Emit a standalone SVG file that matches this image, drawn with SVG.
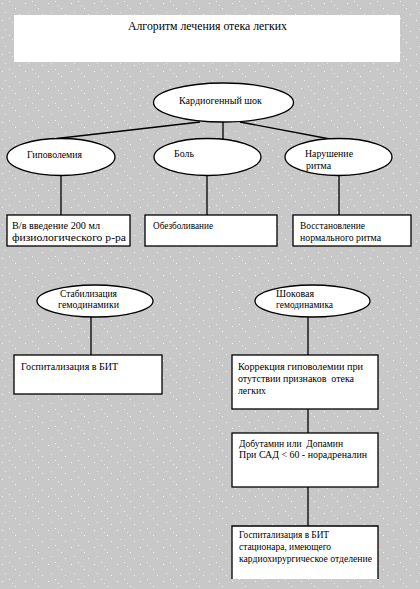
<svg xmlns="http://www.w3.org/2000/svg" width="420" height="589" viewBox="0 0 420 589">
<defs>
<pattern id="noise" width="23" height="17" patternUnits="userSpaceOnUse">
<rect width="23" height="17" fill="#c8c8c8"/>
<rect x="2" y="3" width="1" height="1" fill="#f4f4f4"/>
<rect x="9" y="1" width="1" height="1" fill="#efefef"/>
<rect x="15" y="8" width="1" height="1" fill="#f4f4f4"/>
<rect x="5" y="12" width="1" height="1" fill="#e8e8e8"/>
<rect x="19" y="14" width="1" height="1" fill="#f0f0f0"/>
<rect x="12" y="5" width="1" height="1" fill="#e4e4e4"/>
</pattern>
</defs>
<style>
.n{fill:#fff;stroke:#000;stroke-width:1.3}
.t{font-family:"Liberation Serif","Times New Roman","DejaVu Serif",serif;font-size:10.5px;fill:#000}
.c line{stroke:#000;stroke-width:1.3;fill:none}
</style>
<rect width="420" height="589" fill="url(#noise)"/>
<g id="title">
<rect x="14" y="15" width="386" height="47" fill="#fff"/>
<text class="t" x="128" y="30" textLength="159" lengthAdjust="spacingAndGlyphs" style="font-size:12px">Алгоритм лечения отека легких</text>
</g>
<g class="c" id="connectors">
<line x1="200" y1="122" x2="57" y2="138.5"/>
<line x1="223" y1="122" x2="223" y2="139"/>
<line x1="240" y1="122" x2="330" y2="139"/>
<line x1="61" y1="175.5" x2="61" y2="215"/>
<line x1="207" y1="175.5" x2="207" y2="215"/>
<line x1="339" y1="175.5" x2="339" y2="215"/>
<line x1="91" y1="317" x2="91" y2="355"/>
<line x1="308" y1="317" x2="308" y2="355"/>
<line x1="308" y1="409" x2="308" y2="433"/>
<line x1="308" y1="487" x2="308" y2="526"/>
</g>
<g id="kardio">
<ellipse class="n" cx="223.5" cy="102.5" rx="70" ry="19.5"/>
<text class="t" x="179" y="104" textLength="83" lengthAdjust="spacingAndGlyphs">Кардиогенный шок</text>
</g>
<g id="hypo">
<ellipse class="n" cx="61" cy="157" rx="54" ry="18.5"/>
<text class="t" x="27" y="158" textLength="55" lengthAdjust="spacingAndGlyphs">Гиповолемия</text>
</g>
<g id="pain">
<ellipse class="n" cx="207.5" cy="157" rx="53.5" ry="18.5"/>
<text class="t" x="174" y="157" textLength="20" lengthAdjust="spacingAndGlyphs">Боль</text>
</g>
<g id="rhythm">
<ellipse class="n" cx="338.5" cy="157" rx="53.5" ry="18.5"/>
<text class="t" x="305" y="157" textLength="48" lengthAdjust="spacingAndGlyphs">Нарушение</text>
<text class="t" x="306" y="169" textLength="25" lengthAdjust="spacingAndGlyphs">ритма</text>
</g>
<g id="box-fluid">
<rect class="n" x="7" y="215" width="123" height="31"/>
<text class="t" x="12" y="229" textLength="88" lengthAdjust="spacingAndGlyphs">В/в введение 200 мл</text>
<text class="t" x="12" y="241" textLength="114" lengthAdjust="spacingAndGlyphs">физиологического р-ра</text>
</g>
<g id="box-analgesia">
<rect class="n" x="145" y="215" width="132" height="31"/>
<text class="t" x="153" y="229" textLength="60" lengthAdjust="spacingAndGlyphs">Обезболивание</text>
</g>
<g id="box-rhythm">
<rect class="n" x="293" y="215" width="118" height="31"/>
<text class="t" x="300" y="229" textLength="65" lengthAdjust="spacingAndGlyphs">Восстановление</text>
<text class="t" x="300" y="241" textLength="81" lengthAdjust="spacingAndGlyphs">нормального ритма</text>
</g>
<g id="stab">
<ellipse class="n" cx="95" cy="301" rx="58" ry="16"/>
<text class="t" x="60" y="297" textLength="57" lengthAdjust="spacingAndGlyphs">Стабилизация</text>
<text class="t" x="58" y="308" textLength="61" lengthAdjust="spacingAndGlyphs">гемодинамики</text>
</g>
<g id="shock">
<ellipse class="n" cx="312.5" cy="301" rx="57.5" ry="16"/>
<text class="t" x="276" y="297" textLength="38" lengthAdjust="spacingAndGlyphs">Шоковая</text>
<text class="t" x="276" y="308" textLength="57" lengthAdjust="spacingAndGlyphs">гемодинамика</text>
</g>
<g id="box-hosp">
<rect class="n" x="14" y="355" width="148" height="39"/>
<text class="t" x="21" y="370" textLength="97" lengthAdjust="spacingAndGlyphs">Госпитализация в БИТ</text>
</g>
<g id="box-correction">
<rect class="n" x="232" y="355" width="146" height="54"/>
<text class="t" x="238" y="370" textLength="125" lengthAdjust="spacingAndGlyphs">Коррекция гиповолемии при</text>
<text class="t" x="238" y="382" textLength="116" lengthAdjust="spacingAndGlyphs" xml:space="preserve">отутствии признаков  отека</text>
<text class="t" x="238" y="394" textLength="28" lengthAdjust="spacingAndGlyphs">легких</text>
</g>
<g id="box-dobutamine">
<rect class="n" x="232" y="433" width="146" height="54"/>
<text class="t" x="239" y="447" textLength="104" lengthAdjust="spacingAndGlyphs" xml:space="preserve">Добутамин или  Допамин</text>
<text class="t" x="239" y="458" textLength="128" lengthAdjust="spacingAndGlyphs">При САД &lt; 60 - норадреналин</text>
</g>
<g id="box-final">
<rect x="232" y="526" width="146" height="53" fill="#fff"/>
<path d="M232 579 V526 H378 V579" stroke="#000" stroke-width="1.3" fill="none"/>
<text class="t" x="239" y="538" textLength="90" lengthAdjust="spacingAndGlyphs">Госпитализация в БИТ</text>
<text class="t" x="239" y="550" textLength="92" lengthAdjust="spacingAndGlyphs">стационара, имеющего</text>
<text class="t" x="239" y="562" textLength="133" lengthAdjust="spacingAndGlyphs">кардиохирургическое отделение</text>
</g>
</svg>
